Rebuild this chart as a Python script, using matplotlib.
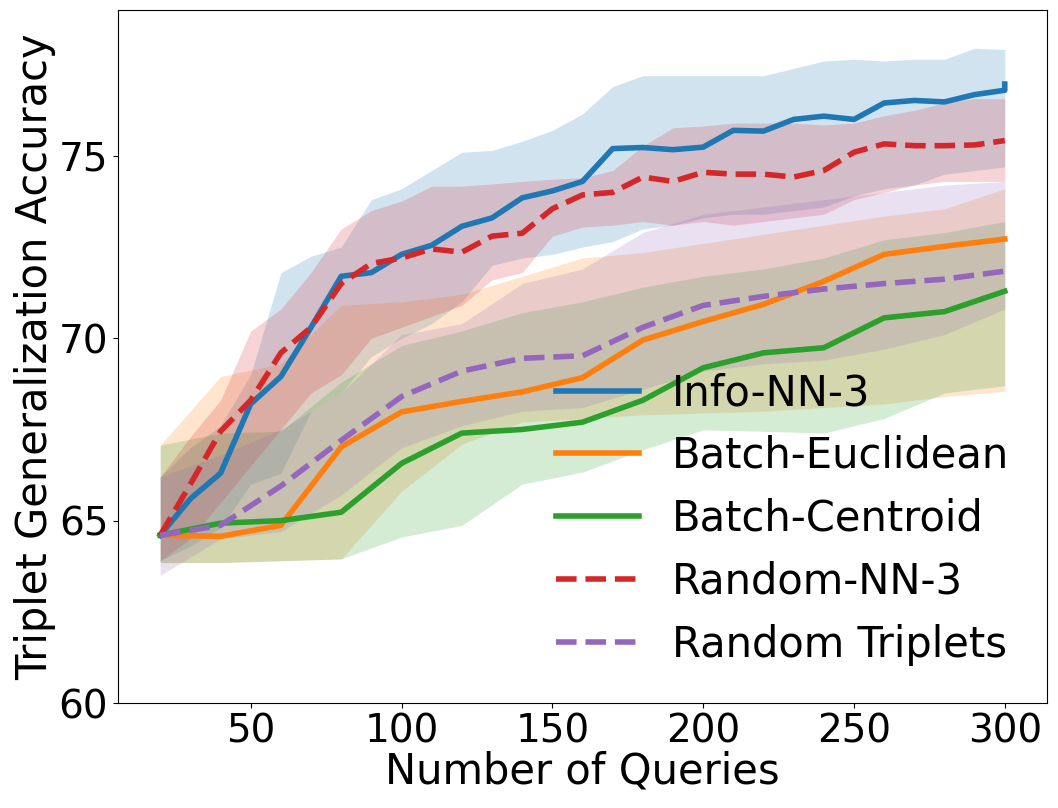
import matplotlib
matplotlib.use("Agg")
import matplotlib.pyplot as plt
import numpy as np

# queries (dense series sampled every 10, batch/random triplets every 20)
x_dense = [20, 30, 40, 50, 60, 70, 80, 90, 100, 110, 120, 130, 140, 150, 160,
           170, 180, 190, 200, 210, 220, 230, 240, 250, 260, 270, 280, 290, 300]
x_sparse = [20, 40, 60, 80, 100, 120, 140, 160, 180, 200, 220, 240, 260, 280, 300]

# Info-NN-3 (last point repeated at 300 as in the original run)
x_info = x_dense + [300]
info_mean = [64.6, 65.6, 66.3, 68.2, 68.95, 70.3, 71.7, 71.8, 72.3, 72.55, 73.07, 73.3,
             73.85, 74.04, 74.3, 75.2, 75.23, 75.17, 75.24, 75.7, 75.68, 76.0, 76.09,
             76.0, 76.45, 76.52, 76.48, 76.68, 76.8, 76.97]
info_hi = [66.2, 67.0, 67.6, 69.0, 71.8, 72.25, 72.5, 73.8, 74.1, 74.6, 75.1, 75.15,
           75.4, 75.7, 76.15, 76.9, 77.2, 77.2, 77.2, 77.2, 77.2, 77.4, 77.6, 77.65,
           77.6, 77.65, 77.65, 77.95, 77.92, 77.92]
info_lo = [63.9, 64.3, 64.8, 66.0, 66.3, 68.0, 68.5, 69.5, 70.0, 70.4, 71.0, 72.0,
           72.2, 72.3, 72.5, 72.65, 73.0, 73.1, 73.3, 73.4, 73.4, 73.5, 73.6, 73.9,
           74.1, 74.2, 74.5, 74.6, 74.7, 74.7]

# Random-NN-3
rand_nn_mean = [64.6, 66.0, 67.45, 68.3, 69.6, 70.3, 71.5, 72.05, 72.2, 72.45, 72.36,
                72.8, 72.88, 73.55, 73.93, 74.0, 74.42, 74.3, 74.55, 74.5, 74.5, 74.42,
                74.6, 75.1, 75.33, 75.28, 75.28, 75.3, 75.42]
rand_nn_hi = [66.2, 67.3, 68.3, 70.2, 70.8, 71.8, 73.0, 73.5, 73.76, 74.17, 74.17, 74.23,
              74.3, 74.36, 74.4, 74.6, 75.27, 75.77, 75.82, 75.9, 75.9, 75.9, 75.85,
              75.9, 76.1, 76.25, 76.45, 76.57, 76.57]
rand_nn_lo = [63.9, 64.5, 65.5, 66.5, 67.5, 68.5, 69.0, 70.0, 70.3, 70.6, 70.9, 71.6,
              71.8, 72.8, 73.05, 73.1, 73.2, 73.1, 73.2, 73.1, 73.2, 73.3, 73.4, 73.8,
              74.0, 74.2, 74.3, 74.3, 74.3]

# Batch-Euclidean
euc_mean = [64.6, 64.57, 64.87, 67.02, 67.98, 68.27, 68.53, 68.92, 69.95, 70.46,
            70.93, 71.56, 72.3, 72.52, 72.72]
euc_hi = [67.07, 68.95, 69.3, 70.9, 71.0, 71.2, 71.7, 72.2, 72.35, 72.6, 72.85, 73.1,
          73.35, 73.55, 74.1]
euc_lo = [63.85, 63.85, 63.9, 63.95, 65.8, 67.1, 67.7, 67.8, 67.9, 67.95, 68.0, 68.1,
          68.2, 68.4, 68.55]

# Batch-Centroid
cen_mean = [64.6, 64.93, 65.0, 65.23, 66.57, 67.4, 67.5, 67.7, 68.3, 69.19, 69.6,
            69.74, 70.56, 70.73, 71.29]
cen_hi = [67.07, 67.4, 67.45, 68.8, 69.8, 70.2, 70.7, 71.0, 71.4, 71.7, 71.9, 72.2,
          72.7, 72.9, 73.2]
cen_lo = [63.85, 63.85, 63.9, 63.95, 64.55, 64.87, 66.0, 66.33, 66.94, 67.49, 67.45,
          67.4, 67.8, 68.5, 68.7]

# Random Triplets
rt_mean = [64.6, 64.87, 65.95, 67.2, 68.4, 69.1, 69.45, 69.52, 70.3, 70.9, 71.15,
           71.35, 71.5, 71.62, 71.84]
rt_hi = [66.2, 66.8, 67.5, 68.5, 70.1, 70.4, 71.5, 71.9, 72.9, 73.4, 73.6, 73.8,
         74.0, 74.2, 74.3]
rt_lo = [63.5, 64.5, 64.7, 65.7, 67.0, 67.6, 68.0, 68.1, 68.6, 69.1, 69.3, 69.4,
         69.7, 70.1, 70.8]

series = [
    ("Info-NN-3", x_info, info_mean, info_lo, info_hi, "tab:blue", "-"),
    ("Batch-Euclidean", x_sparse, euc_mean, euc_lo, euc_hi, "tab:orange", "-"),
    ("Batch-Centroid", x_sparse, cen_mean, cen_lo, cen_hi, "tab:green", "-"),
    ("Random-NN-3", x_dense, rand_nn_mean, rand_nn_lo, rand_nn_hi, "tab:red", "--"),
    ("Random Triplets", x_sparse, rt_mean, rt_lo, rt_hi, "tab:purple", "--"),
]

fig = plt.figure(figsize=(10.58, 8.08), dpi=100)
ax = fig.add_axes([118 / 1058, 1 - 703 / 808, (1047 - 118) / 1058, (703 - 10) / 808])

for name, xs, mean, lo, hi, color, ls in series:
    ax.plot(xs, mean, color=color, linestyle=ls, linewidth=4, label=name)
    ax.fill_between(xs, lo, hi, color=color, alpha=0.2, linewidth=0)

ax.set_ylim(60, 79)
ax.set_yticks([60, 65, 70, 75])
ax.set_xticks([50, 100, 150, 200, 250, 300])
ax.tick_params(labelsize=28)
ax.set_xlabel("Number of Queries", fontsize=30, labelpad=0)
ax.set_ylabel("Triplet Generalization Accuracy", fontsize=30, labelpad=2)
ax.legend(loc="lower right", fontsize=30, frameon=False)

fig.savefig("out.png", dpi=100)
